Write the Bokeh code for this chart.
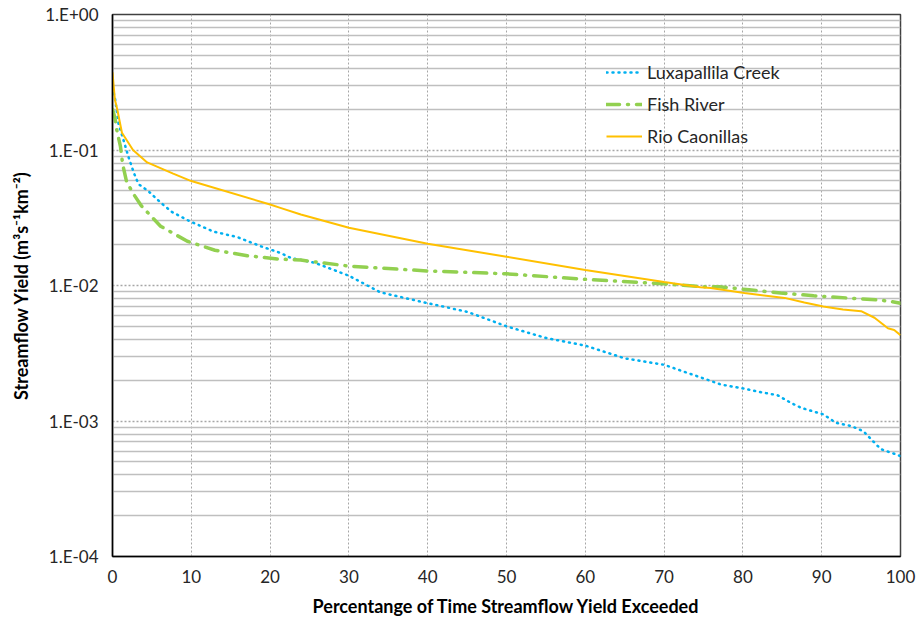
from bokeh.plotting import figure
from bokeh.models import (FixedTicker, CustomJSTickFormatter, Legend, LegendItem, Range1d)
from bokeh.embed import file_html
from bokeh.resources import INLINE

# ---- data ----
lux_x = [0, 0.34, 0.76, 1.5, 2.0, 2.7, 3.3, 4.5, 6.1, 7.5, 9.7, 12.8, 15.8, 18.8, 21.3, 22.6, 25.7,
         30, 34, 40, 45, 50, 55, 60, 65, 70, 74.6, 77.2, 80.2, 82.3, 84.4, 86.1, 87.4,
         90.2, 91.8, 93.7, 95.3, 96.3, 97.5, 99.7, 100]
lux_y = [0.29, 0.236, 0.157, 0.113, 0.090, 0.068, 0.056, 0.050, 0.041, 0.035, 0.030, 0.025, 0.0228,
         0.0195, 0.0174, 0.016, 0.0147, 0.0118, 0.0089, 0.0074, 0.0064, 0.0050, 0.0041,
         0.0036, 0.0029, 0.0026, 0.0021, 0.00186, 0.00173, 0.00163, 0.00155, 0.00136,
         0.00125, 0.00112, 0.00097, 0.00092, 0.00084, 0.00073, 0.00062, 0.00056, 0.00055]

fish_x = [0, 0.3, 0.55, 1.0, 1.3, 1.8, 2.7, 3.7, 6.1, 9.5, 13.0, 17.1, 20.9, 23.9, 30, 40, 50,
          60, 70, 74.6, 77, 80.8, 84.8, 89, 93.1, 97.5, 99.5, 100]
fish_y = [0.20, 0.174, 0.14, 0.107, 0.078, 0.058, 0.047, 0.0385, 0.0274, 0.0212, 0.0182, 0.0166,
          0.0157, 0.0154, 0.0139, 0.0128, 0.0122, 0.0111, 0.0103, 0.0098, 0.0098, 0.0093,
          0.0088, 0.0084, 0.0081, 0.0078, 0.0075, 0.0074]

rio_x = [0, 0.3, 0.6, 1.2, 2.6, 4.4, 7.7, 10, 20, 21.3, 23.9, 30, 40, 50, 60, 70, 74.6, 75.9,
         80.2, 85.3, 87.8, 90.2, 92.7, 95.0, 96.7, 97.8, 98.4, 99.2, 100]
rio_y = [0.375, 0.236, 0.20, 0.134, 0.100, 0.081, 0.067, 0.059, 0.0396, 0.0374, 0.0334, 0.0267,
         0.0203, 0.0163, 0.0130, 0.0106, 0.0097, 0.0096, 0.0088, 0.0081, 0.0075, 0.0070,
         0.00665, 0.00646, 0.00578, 0.00515, 0.00483, 0.0047, 0.0043]

x_ticks = [0, 10, 20, 30, 40, 50, 60, 70, 80, 90, 100]
y_major = [1e-4, 1e-3, 1e-2, 1e-1, 1.0]
y_minor = [m * d for d in [1e-4, 1e-3, 1e-2, 1e-1] for m in range(2, 10)]

names = ["Luxapallila Creek", "Fish River", "Rio Caonillas"]

FONT = "Lato"
TXT = "#262626"

p = figure(width=917, height=620, y_axis_type="log",
           x_range=Range1d(0, 100), y_range=Range1d(1e-4, 1.0),
           output_backend="svg", toolbar_location=None,
           min_border_left=112, min_border_right=17, min_border_top=14, min_border_bottom=64)

p.background_fill_color = "white"
p.border_fill_color = "white"
p.outline_line_color = "#404040"
p.outline_line_width = 1.5

r1 = p.line(lux_x, lux_y, line_color="#00b0f0", line_width=2.5, line_dash="1 5",
            line_cap="round")
r2 = p.line(fish_x, fish_y, line_color="#92d050", line_width=3.5, line_dash="13 8 1 8",
            line_cap="round")
r3 = p.line(rio_x, rio_y, line_color="#ffc000", line_width=2)

# axes
p.xaxis.ticker = FixedTicker(ticks=x_ticks)
p.yaxis.ticker = FixedTicker(ticks=y_major)
p.yaxis.formatter = CustomJSTickFormatter(code="""
const e = Math.round(Math.log10(tick));
const s = e < 0 ? '-' : '+';
return '1.E' + s + String(Math.abs(e)).padStart(2, '0');
""")
for ax in (p.xaxis[0], p.yaxis[0]):
    ax.major_tick_line_color = None
    ax.minor_tick_line_color = None
    ax.axis_line_color = "#000000"
    ax.axis_line_width = 1.5
    ax.major_label_text_font = FONT
    ax.major_label_text_font_size = "17px"
    ax.major_label_text_color = TXT
    ax.axis_label_text_font = FONT
    ax.axis_label_text_font_size = "18px"
    ax.axis_label_text_font_style = "bold"
    ax.axis_label_text_color = "#000000"

p.xaxis.axis_label = "Percentange of Time Streamflow Yield Exceeded"
p.yaxis.axis_label = "Streamflow Yield (m\u00b3s\u207b\u00b9km\u207b\u00b2)"
p.xaxis.major_label_standoff = 7
p.xaxis.axis_label_standoff = 9
p.yaxis.major_label_standoff = 8
p.yaxis.axis_label_standoff = 10

# grids
p.xgrid.ticker = FixedTicker(ticks=x_ticks[1:-1])
p.xgrid.grid_line_color = "#a6a6a6"
p.xgrid.grid_line_dash = "2 2"
p.xgrid.grid_line_width = 1

p.ygrid.ticker = FixedTicker(ticks=y_major, minor_ticks=y_minor)
p.ygrid.grid_line_color = "#a6a6a6"
p.ygrid.grid_line_dash = "2 2"
p.ygrid.grid_line_width = 1.5
p.ygrid.minor_grid_line_color = "#bfbfbf"
p.ygrid.minor_grid_line_width = 1.5

legend = Legend(items=[LegendItem(label=names[0], renderers=[r1]),
                       LegendItem(label=names[1], renderers=[r2]),
                       LegendItem(label=names[2], renderers=[r3])],
                location=(494, 409))
legend.background_fill_alpha = 0
legend.border_line_color = None
legend.label_text_font = FONT
legend.label_text_font_size = "18px"
legend.label_text_color = TXT
legend.glyph_width = 36
legend.spacing = 10
legend.label_standoff = 5
legend.padding = 5
p.add_layout(legend, "center")

open("out.html", "w").write(file_html(p, INLINE))
